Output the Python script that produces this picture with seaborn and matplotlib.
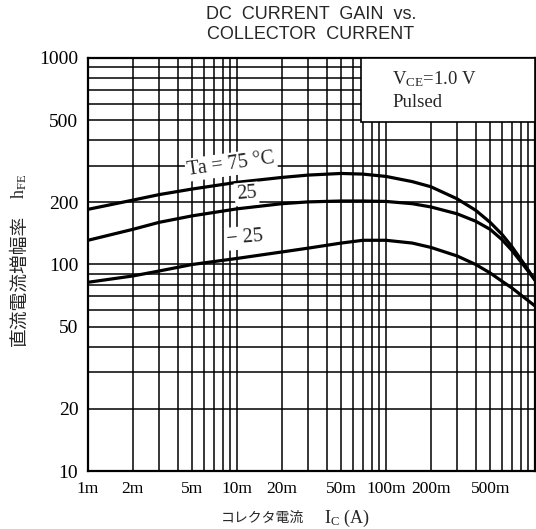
import numpy as np
import pandas as pd
import matplotlib
matplotlib.use("Agg")
from matplotlib import pyplot as plt
from matplotlib.patches import Rectangle
from matplotlib.ticker import FixedLocator, LogLocator, NullFormatter
import seaborn as sns

# collector current (A) and DC current gain for each ambient temperature
ic = [1e-3, 2e-3, 3e-3, 5e-3, 1e-2, 2e-2, 3e-2, 5e-2, 7e-2, 1e-1, 1.5e-1,
      2e-1, 3e-1, 4e-1, 5e-1, 6e-1, 7e-1, 8.5e-1, 1.0]
hfe_75 = [185, 205, 218, 232, 250, 264, 271, 276, 274, 267, 252,
          238, 208, 183, 160, 140, 122, 100, 84]
hfe_25 = [131, 148, 160, 172, 186, 197, 201, 203, 203, 202, 197,
          190, 176, 162, 148, 132, 117, 98, 84]
hfe_m25 = [82, 88, 93, 100, 107, 115, 120, 127, 131, 131, 127,
           121, 110, 100, 91, 83, 77, 69, 63]

temps = ["75", "25", "-25"]
x_ticks = [1e-3, 2e-3, 5e-3, 1e-2, 2e-2, 5e-2, 1e-1, 2e-1, 5e-1]
x_labels = ["1m", "2m", "5m", "10m", "20m", "50m", "100m", "200m", "500m"]
y_ticks = [10, 20, 50, 100, 200, 500, 1000]
y_labels = ["10", "20", "50", "100", "200", "500", "1000"]

df = pd.concat(
    [
        pd.DataFrame({"Ic": ic, "hFE": vals, "Ta": t})
        for t, vals in zip(temps, [hfe_75, hfe_25, hfe_m25])
    ]
)

sns.set_theme(style="white")
plt.rcParams["font.family"] = ["Liberation Serif", "DejaVu Sans"]

fig = plt.figure(figsize=(5.36, 5.29), dpi=100)
ax = fig.add_axes([88 / 536, 58 / 529, 447 / 536, 413 / 529])

sns.lineplot(
    data=df,
    x="Ic",
    y="hFE",
    hue="Ta",
    palette=["black"] * 3,
    linewidth=2.3,
    legend=False,
    ax=ax,
    zorder=3,
)
ax.set_xscale("log")
ax.set_yscale("log")
ax.set_xlim(1e-3, 1)
ax.set_ylim(10, 1000)

ax.xaxis.set_major_locator(FixedLocator(x_ticks))
ax.yaxis.set_major_locator(FixedLocator(y_ticks))
ax.xaxis.set_minor_locator(LogLocator(base=10, subs=np.arange(1, 10)))
ax.yaxis.set_minor_locator(LogLocator(base=10, subs=np.arange(1, 10)))
ax.xaxis.set_minor_formatter(NullFormatter())
ax.yaxis.set_minor_formatter(NullFormatter())
ax.set_xticklabels(x_labels)
ax.set_yticklabels(y_labels)
ax.tick_params(which="both", length=0, colors="black", pad=7)
ax.tick_params(axis="x", labelsize=12.5)
ax.tick_params(axis="y", labelsize=14)
ax.grid(True, which="both", color="black", linewidth=1.1)
for s in ax.spines.values():
    s.set_color("black")
    s.set_linewidth(1.6)
ax.set_xlabel("")
ax.set_ylabel("")

# condition box
ax.add_patch(
    Rectangle((0.068, 490), 1 - 0.068, 510, facecolor="white",
              edgecolor="black", linewidth=1.2, zorder=4)
)
ax.text(0.11, 790, r"$\mathregular{V_{CE}}$=1.0 V", fontsize=13.5,
        va="center", zorder=5)
ax.text(0.11, 610, "Pulsed", fontsize=13.5, va="center", zorder=5)

# curve labels
lbl = dict(facecolor="white", edgecolor="none", pad=1.5)
ax.text(4.7e-3, 272, "Ta = 75 °C", fontsize=14.5, rotation=8,
        rotation_mode="anchor", bbox=lbl, zorder=4)
ax.text(1.0e-2, 207, "25", fontsize=14.5, rotation=5,
        rotation_mode="anchor", bbox=lbl, zorder=4)
ax.text(8.6e-3, 126, "− 25", fontsize=14.5, rotation=5,
        rotation_mode="anchor", bbox=lbl, zorder=4)

fig.text(311 / 536, 1 - 6 / 529, "DC  CURRENT  GAIN  vs.\nCOLLECTOR  CURRENT",
         ha="center", va="top", fontsize=13,
         family=["Liberation Sans Narrow", "Liberation Sans"],
         linespacing=1.2)

fig.text(19 / 536, 1 - 280 / 529, "直流電流増幅率", rotation=90, ha="center",
         va="center", fontsize=13.5, family=["Noto Sans CJK JP", "DejaVu Sans"])
fig.text(19 / 536, 1 - 186 / 529, r"$\mathregular{h_{FE}}$", rotation=90,
         ha="center", va="center", fontsize=13)

fig.text(262 / 536, 1 - 518 / 529, "コレクタ電流", ha="center", va="center",
         fontsize=10, family=["Noto Sans CJK JP", "DejaVu Sans"])
fig.text(347 / 536, 1 - 518 / 529, r"$\mathregular{I_C}$ (A)", ha="center",
         va="center", fontsize=13)

fig.savefig("out.png", dpi=100)
